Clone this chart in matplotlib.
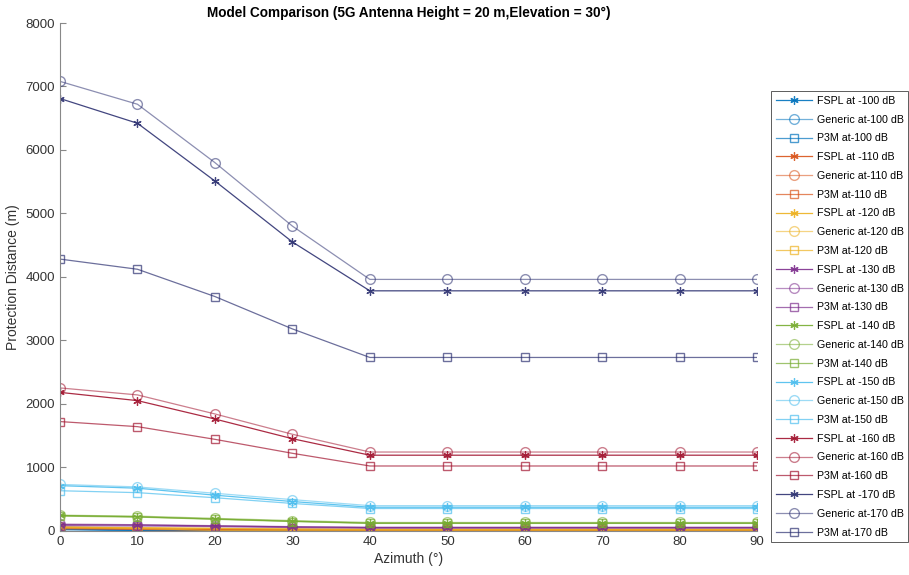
import matplotlib
matplotlib.use("Agg")
import matplotlib.pyplot as plt
import numpy as np

plt.rcParams['font.family'] = ['Liberation Sans', 'DejaVu Sans']

azimuth = [0, 10, 20, 30, 40, 50, 60, 70, 80, 90]
levels = [-100, -110, -120, -130, -140, -150, -160, -170]

# protection distance (m) per level
fspl = {
    -100: [25, 5, 5, 5, 5, 5, 5, 5, 5, 5],
    -110: [45, 30, 20, 15, 10, 10, 10, 10, 10, 10],
    -120: [55, 45, 35, 25, 20, 20, 20, 20, 20, 20],
    -130: [95, 90, 75, 60, 50, 50, 50, 50, 50, 50],
    -140: [240, 220, 185, 150, 120, 120, 120, 120, 120, 120],
    -150: [710, 670, 560, 460, 370, 370, 370, 370, 370, 370],
    -160: [2180, 2050, 1760, 1450, 1190, 1190, 1190, 1190, 1190, 1190],
    -170: [6810, 6420, 5510, 4550, 3780, 3780, 3780, 3780, 3780, 3780],
}
generic = {
    -100: [30, 10, 5, 5, 5, 5, 5, 5, 5, 5],
    -110: [55, 40, 25, 20, 15, 15, 15, 15, 15, 15],
    -120: [65, 50, 40, 30, 25, 25, 25, 25, 25, 25],
    -130: [105, 95, 80, 65, 55, 55, 55, 55, 55, 55],
    -140: [245, 230, 195, 160, 130, 130, 130, 130, 130, 130],
    -150: [730, 690, 590, 490, 395, 395, 395, 395, 395, 395],
    -160: [2250, 2140, 1840, 1520, 1240, 1240, 1240, 1240, 1240, 1240],
    -170: [7080, 6720, 5800, 4800, 3960, 3960, 3960, 3960, 3960, 3960],
}
p3m = {
    -100: [15, 0, 0, 0, 0, 0, 0, 0, 0, 0],
    -110: [30, 20, 5, 5, 5, 5, 5, 5, 5, 5],
    -120: [45, 35, 5, 5, 5, 5, 5, 5, 5, 5],
    -130: [80, 75, 65, 50, 40, 40, 40, 40, 40, 40],
    -140: [230, 215, 180, 145, 115, 115, 115, 115, 115, 115],
    -150: [630, 600, 520, 430, 350, 350, 350, 350, 350, 350],
    -160: [1720, 1640, 1440, 1220, 1020, 1020, 1020, 1020, 1020, 1020],
    -170: [4280, 4120, 3690, 3180, 2730, 2730, 2730, 2730, 2730, 2730],
}

base_colors = {
    -100: '#0072BD', -110: '#D95319', -120: '#EDB120', -130: '#7E2F8E',
    -140: '#77AC30', -150: '#4DBEEE', -160: '#A2142F', -170: '#2E3272',
}

fig = plt.figure(figsize=(9.09, 5.75), dpi=100)
ax = fig.add_axes([0.066, 0.077, 0.767, 0.883])

for lv in levels:
    c = base_colors[lv]
    ax.plot(azimuth, fspl[lv], marker=(6, 2, 0), color=c, alpha=0.9, lw=0.9,
            ms=6, mew=0.9, label=f'FSPL at {lv} dB')
    ax.plot(azimuth, generic[lv], marker='o', color=c, alpha=0.55, lw=0.9,
            ms=7, mfc='none', label=f'Generic at{lv} dB')
    ax.plot(azimuth, p3m[lv], marker='s', color=c, alpha=0.7, lw=0.9,
            ms=6, mfc='none', label=f'P3M at{lv} dB')

ax.set_xlim(0, 90)
ax.set_ylim(0, 8000)
ax.set_xticks(np.arange(0, 91, 10))
ax.set_yticks(np.arange(0, 8001, 1000))
ax.tick_params(direction='in', length=4, color='#888888', labelcolor='#333333',
               labelsize=9.5)
for s in ['top', 'right']:
    ax.spines[s].set_visible(False)
for s in ['left', 'bottom']:
    ax.spines[s].set_color('#888888')

ax.set_xlabel('Azimuth (°)', fontsize=10, color='#333333', labelpad=3)
ax.set_ylabel('Protection Distance (m)', fontsize=10, color='#333333')
ax.set_title('Model Comparison (5G Antenna Height = 20 m,Elevation = 30°)',
             fontsize=9.8, fontweight='bold', pad=4)

leg = ax.legend(loc='upper left', bbox_to_anchor=(1.02, 0.866), fontsize=7.7,
                frameon=True, fancybox=False, borderpad=0.45, labelspacing=0.82,
                handlelength=3.4, handletextpad=0.4, borderaxespad=0.0)
leg.get_frame().set_edgecolor('#333333')
leg.get_frame().set_linewidth(0.7)

fig.savefig('out.png', dpi=100)
